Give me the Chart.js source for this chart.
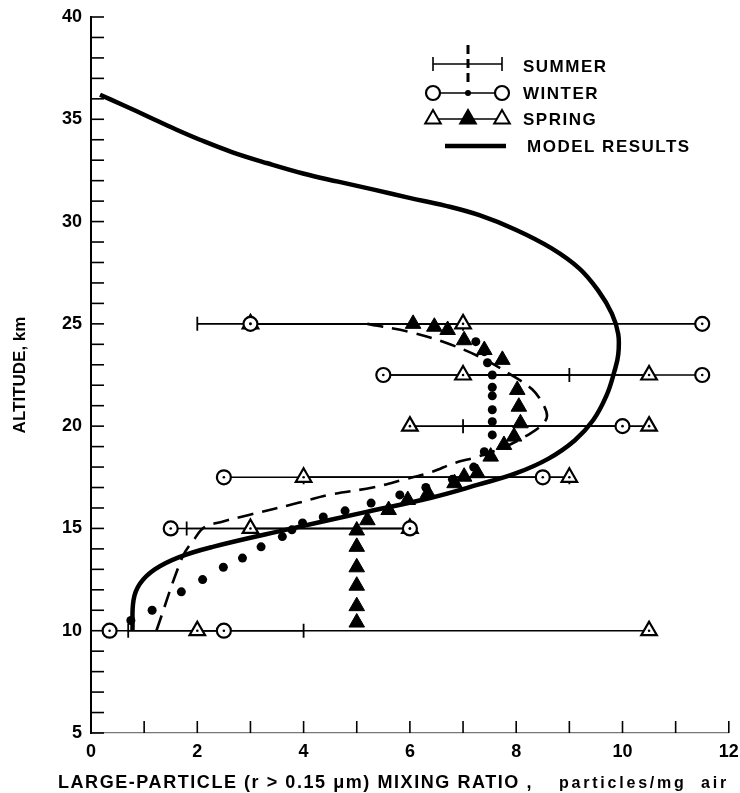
<!DOCTYPE html>
<html><head><meta charset="utf-8">
<script src="https://cdn.jsdelivr.net/npm/chart.js@4.4.1/dist/chart.umd.min.js"></script>
<style>html,body{margin:0;padding:0;background:#fff}#wrap{width:740px;height:793px}</style>
</head><body><div id="wrap"><canvas id="c" width="740" height="793"></canvas></div>
<script>
// ---- data ----
const modelX = [0.17,0.6,1.1,1.6,2.05,2.65,3.32,3.99,4.65,5.32,5.99,6.66,7.32,7.99,8.66,9.19,9.55,9.8,9.92,9.92,9.85,9.7,9.45,9.1,8.6,8.0,7.3,6.4,5.1,3.66,2.29,1.66,1.2,0.92,0.8,0.78];
const modelY = [36.2,35.7,35.1,34.5,34.0,33.4,32.85,32.35,31.95,31.56,31.16,30.78,30.3,29.6,28.7,27.7,26.6,25.5,24.5,23.5,22.7,21.5,20.3,19.3,18.4,17.7,17.15,16.5,15.76,14.93,14.1,13.6,13.0,12.3,11.5,10.0];

const summerX = [5.2,6.0,6.65,7.3,7.96,8.3,8.5,8.58,8.5,8.27,7.8,7.27,6.84,6.4,5.9,5.3,4.47,3.9,2.97,2.5,2.13,1.95,1.72,1.23];
const summerY = [25.0,24.6,24.1,23.4,22.42,21.8,21.1,20.5,20.1,19.65,19.0,18.5,18.2,17.75,17.4,17.0,16.64,16.25,15.66,15.35,15.05,14.5,13.6,10.0];

const winterX = [0.75,1.15,1.7,2.1,2.49,2.85,3.2,3.6,3.78,3.98,4.37,4.78,5.27,5.81,6.3,6.8,7.2,7.4,7.55,7.55,7.55,7.55,7.55,7.55,7.46,7.4,7.24];
const winterY = [10.5,11.0,11.9,12.5,13.1,13.55,14.1,14.6,14.93,15.27,15.56,15.86,16.24,16.64,17.0,17.4,18.0,18.75,19.57,20.22,20.8,21.48,21.9,22.5,23.1,23.64,24.13];

const springX = [5,5,5,5,5,5,5.2,5.6,5.96,6.34,6.84,7.02,7.27,7.52,7.77,7.96,8.08,8.05,8.02,7.74,7.4,7.02,6.71,6.46,6.06];
const springY = [10.4,11.2,12.2,13.1,14.1,14.9,15.4,15.9,16.39,16.72,17.21,17.53,17.7,18.51,19.08,19.49,20.14,20.95,21.77,23.24,23.72,24.2,24.7,24.86,25.0];

const barAlt     = [25, 22.5, 20, 17.5, 15, 10];
const summerLow  = [2, 5.5, 7, 4, 1.8, 0.7];
const summerHigh = [7, 9, 10, 9, 6, 4];
const winterLow  = [3, 5.5, null, 2.5, 1.5, 0.35];
const winterHigh = [11.5, 11.5, 10, 8.5, 6, 2.5];
const springLow  = [3, 7, 6, 4, 3, 2];
const springHigh = [7, 10.5, 10.5, 9, 6, 10.5];

const legendLabels = ['SUMMER', 'WINTER', 'SPRING', 'MODEL RESULTS'];
const yTitle = 'ALTITUDE, km';
const xTitleBold = 'LARGE-PARTICLE (r > 0.15 \u03bcm) MIXING RATIO ,';
const xTitleReg = 'particles/mg  air';
const xMin = 0, xMax = 12, yMin = 5, yMax = 40;

// ---- helpers to build library datasets ----
const pts = (xs, ys) => xs.map((x, i) => ({x, y: ys[i]}));
function segments(lo, hi) {
  const out = [];
  barAlt.forEach((a, i) => {
    if (lo[i] == null || hi[i] == null) return;
    out.push({x: lo[i], y: a}, {x: hi[i], y: a}, {x: hi[i], y: null});
  });
  return out;
}
function ends(lo, hi) {
  const out = [];
  barAlt.forEach((a, i) => {
    if (lo[i] != null) out.push({x: lo[i], y: a});
    if (hi[i] != null) out.push({x: hi[i], y: a});
  });
  return out;
}
const FONT = '"Liberation Sans", Arial, sans-serif';

const datasets = [
  {data: segments(summerLow, summerHigh), showLine: true, borderColor: '#000', borderWidth: 1.6, pointRadius: 0, spanGaps: false, order: 5},
  {data: segments(winterLow, winterHigh), showLine: true, borderColor: '#000', borderWidth: 1.6, pointRadius: 0, spanGaps: false, order: 5},
  {data: segments(springLow, springHigh), showLine: true, borderColor: '#000', borderWidth: 1.6, pointRadius: 0, spanGaps: false, order: 5},
  {data: ends(summerLow, summerHigh), showLine: false, pointStyle: 'line', rotation: 90, pointRadius: 7, borderColor: '#000', pointBorderWidth: 1.8, order: 4},
  {data: pts(modelX, modelY), showLine: true, borderColor: '#000', borderWidth: 4.5, tension: 0.4, pointRadius: 0, order: 3},
  {data: pts(summerX, summerY), showLine: true, borderColor: '#000', borderWidth: 2.6, borderDash: [16, 9], tension: 0.35, pointRadius: 0, order: 3},
  {data: pts(winterX, winterY), showLine: false, pointStyle: 'circle', pointRadius: 4.5, backgroundColor: '#000', borderColor: '#000', pointBorderWidth: 0, order: 2},
  {data: pts(springX, springY), showLine: false, pointStyle: 'triangle', pointRadius: 9, backgroundColor: '#000', borderColor: '#000', pointBorderWidth: 1, order: 2},
  {data: ends(winterLow, winterHigh), showLine: false, pointStyle: 'circle', pointRadius: 7, backgroundColor: '#fff', borderColor: '#000', pointBorderWidth: 2.2, order: 1},
  {data: ends(springLow, springHigh), showLine: false, pointStyle: 'triangle', pointRadius: 9, backgroundColor: '#fff', borderColor: '#000', pointBorderWidth: 2.2, order: 1},
  {data: ends(winterLow, winterHigh).concat(ends(springLow, springHigh)), showLine: false, pointStyle: 'circle', pointRadius: 1.3, backgroundColor: '#000', borderColor: '#000', pointBorderWidth: 0, order: 0}
];

function tri(ctx, x, y, r, fill) {
  ctx.beginPath();
  ctx.moveTo(x, y - r);
  ctx.lineTo(x + 0.866 * r, y + 0.5 * r);
  ctx.lineTo(x - 0.866 * r, y + 0.5 * r);
  ctx.closePath();
  ctx.fillStyle = fill; ctx.fill();
  ctx.lineWidth = 2; ctx.strokeStyle = '#000'; ctx.stroke();
}
function fitText(ctx, text, x, y, target) {
  ctx.letterSpacing = '0px';
  const w = ctx.measureText(text).width;
  ctx.letterSpacing = ((target - w) / text.length).toFixed(2) + 'px';
  ctx.fillText(text, x, y);
  ctx.letterSpacing = '0px';
}

const decor = {
  id: 'decor',
  beforeDatasetsDraw(chart) {
    const {ctx, chartArea: a, scales: {x, y}} = chart;
    ctx.save();
    ctx.strokeStyle = '#000'; ctx.lineWidth = 1.6;
    x.ticks.forEach(t => { const px = x.getPixelForValue(t.value); ctx.beginPath(); ctx.moveTo(px, a.bottom); ctx.lineTo(px, a.bottom - 12); ctx.stroke(); });
    y.ticks.forEach(t => { const py = y.getPixelForValue(t.value); ctx.beginPath(); ctx.moveTo(a.left, py); ctx.lineTo(a.left + 13, py); ctx.stroke(); });
    ctx.restore();
  },
  afterDraw(chart) {
    const ctx = chart.ctx;
    ctx.save();
    const lx1 = 433, lx2 = 502, lm = 468, tx = 523;
    const rows = [64, 93, 119, 146];
    ctx.strokeStyle = '#000'; ctx.fillStyle = '#000';
    ctx.lineWidth = 1.6;
    ctx.beginPath(); ctx.moveTo(lx1, rows[0]); ctx.lineTo(lx2, rows[0]); ctx.stroke();
    ctx.beginPath(); ctx.moveTo(lx1, rows[0] - 7); ctx.lineTo(lx1, rows[0] + 7); ctx.moveTo(lx2, rows[0] - 7); ctx.lineTo(lx2, rows[0] + 7); ctx.stroke();
    ctx.lineWidth = 3; ctx.setLineDash([9, 5]);
    ctx.beginPath(); ctx.moveTo(lm, 45); ctx.lineTo(lm, 83); ctx.stroke();
    ctx.setLineDash([]);
    ctx.lineWidth = 1.6;
    ctx.beginPath(); ctx.moveTo(lx1, rows[1]); ctx.lineTo(lx2, rows[1]); ctx.stroke();
    [lx1, lx2].forEach(px => { ctx.beginPath(); ctx.arc(px, rows[1], 7, 0, Math.PI * 2); ctx.fillStyle = '#fff'; ctx.fill(); ctx.lineWidth = 2.2; ctx.stroke(); });
    ctx.beginPath(); ctx.arc(lm, rows[1], 3, 0, Math.PI * 2); ctx.fillStyle = '#000'; ctx.fill();
    ctx.lineWidth = 1.6;
    ctx.beginPath(); ctx.moveTo(lx1, rows[2]); ctx.lineTo(lx2, rows[2]); ctx.stroke();
    tri(ctx, lx1, rows[2], 9, '#fff'); tri(ctx, lx2, rows[2], 9, '#fff'); tri(ctx, lm, rows[2], 9, '#000');
    ctx.lineWidth = 4.5;
    ctx.beginPath(); ctx.moveTo(445, rows[3]); ctx.lineTo(506, rows[3]); ctx.stroke();
    ctx.fillStyle = '#000';
    ctx.font = 'bold 17px ' + FONT;
    ctx.textBaseline = 'middle';
    ctx.letterSpacing = '1.5px';
    legendLabels.forEach((s, i) => ctx.fillText(s, i === 3 ? 527 : tx, rows[i] + (i === 0 ? 3 : 1)));
    // x title
    ctx.textBaseline = 'alphabetic';
    ctx.font = 'bold 18px ' + FONT;
    fitText(ctx, xTitleBold, 58, 788, 475);
    ctx.font = 'bold 16px ' + FONT;
    fitText(ctx, xTitleReg, 559, 788, 170);
    ctx.restore();
  }
};

new Chart(document.getElementById('c'), {
  type: 'scatter',
  data: {datasets},
  options: {
    responsive: false,
    animation: false,
    devicePixelRatio: 1,
    layout: {padding: {top: 17, right: 7, left: 0, bottom: 0}},
    plugins: {legend: {display: false}, tooltip: {enabled: false}},
    scales: {
      x: {
        type: 'linear', min: xMin, max: xMax,
        grid: {display: false, drawTicks: false},
        border: {display: true, color: '#777', width: 1.2},
        ticks: {stepSize: 1, autoSkip: false, maxRotation: 0, padding: 8, color: '#000',
          font: {family: FONT, size: 18, weight: 'bold'},
          callback: v => (v % 2 === 0 ? String(v) : '')},
        afterFit(s) { s.height = 60; s.paddingLeft = 0; s.paddingRight = 0; }
      },
      y: {
        type: 'linear', min: yMin, max: yMax,
        grid: {display: false, drawTicks: false},
        border: {display: true, color: '#000', width: 2},
        ticks: {stepSize: 1, autoSkip: false, maxTicksLimit: 100, padding: 9, color: '#000',
          font: {family: FONT, size: 18, weight: 'bold'},
          callback: v => (v % 5 === 0 ? String(v) : '')},
        title: {display: true, text: yTitle, color: '#000', padding: {top: 10, bottom: 0},
          font: {family: FONT, size: 17, weight: 'bold'}},
        afterFit(s) { s.width = 91; s.paddingTop = 0; s.paddingBottom = 0; }
      }
    }
  },
  plugins: [decor]
});
</script>
</body></html>
